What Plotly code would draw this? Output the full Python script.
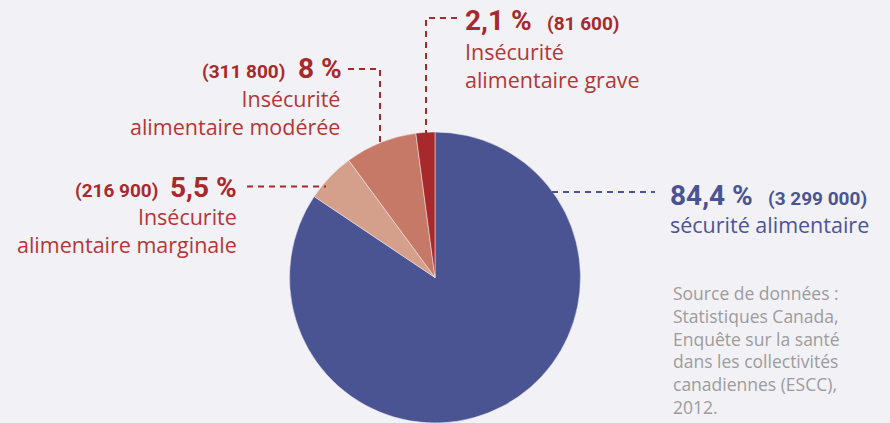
import plotly.graph_objects as go

# ---- data ----
categories = ["sécurité alimentaire", "Insécurite alimentaire marginale",
              "Insécurité alimentaire modérée", "Insécurité alimentaire grave"]
percent_labels = ["84,4 %", "5,5 %", "8 %", "2,1 %"]
percent_values = [84.4, 5.5, 8.0, 2.1]
count_labels = ["(3 299 000)", "(216 900)", "(311 800)", "(81 600)"]
label_lines = [["sécurité alimentaire"],
               ["Insécurite", "alimentaire marginale"],
               ["Insécurité", "alimentaire modérée"],
               ["Insécurité", "alimentaire grave"]]
source_lines = ["Source de données :", "Statistiques Canada,",
                "Enquête sur la santé", "dans les collectivités",
                "canadiennes (ESCC),", "2012."]

# ---- style ----
W, H = 890, 423
BG = "#f2f1f6"
slice_colors = ["#4a5493", "#d4a08c", "#c67966", "#a8292b"]
text_colors = ["#4a5493", "#b23636", "#b23636", "#b23636"]
big_colors = ["#4a5493", "#a8292b", "#a8292b", "#a8292b"]
line_colors = ["#4a5493", "#a8292b", "#a8292b", "#a8292b"]
BOLD = "Roboto, Liberation Sans, sans-serif"
REG = "Open Sans, Lato, sans-serif"


def px(x):
    return x / W


def py(y):
    return 1 - y / H


fig = go.Figure()
fig.add_trace(go.Pie(
    labels=categories, values=percent_values, sort=False,
    direction="clockwise", rotation=0,
    marker=dict(colors=slice_colors, line=dict(color=BG, width=0.5)),
    textinfo="none", hoverinfo="label+percent", showlegend=False,
    domain=dict(x=[px(289.5), px(580.5)], y=[0, 291 / H]),
))

big_size, small_size, lab_size = 28, 19, 21.5

ann = []


def big(text, x, base, anchor, color):
    ann.append(dict(text=f"<b>{text}</b>", x=px(x), y=py(base - 0.342 * big_size),
                    xref="paper", yref="paper", xanchor=anchor, yanchor="middle",
                    showarrow=False, font=dict(family=BOLD, size=big_size, color=color)))


def small(text, x, base, anchor, color):
    ann.append(dict(text=f"<b>{text}</b>", x=px(x), y=py(base - 0.342 * small_size),
                    xref="paper", yref="paper", xanchor=anchor, yanchor="middle",
                    showarrow=False, font=dict(family=BOLD, size=small_size, color=color)))


def label(lines, x, base1, anchor, color, size=lab_size, align="left"):
    n = len(lines)
    lh = 1.3 * size
    center = base1 - 0.388 * size + (n - 1) * lh / 2
    ann.append(dict(text="<br>".join(lines), x=px(x), y=py(center), xref="paper", yref="paper",
                    xanchor=anchor, yanchor="middle", align=align, showarrow=False,
                    font=dict(family=REG, size=size, color=color)))


# sécurité alimentaire
big(percent_labels[0], 668, 205, "left", big_colors[0])
small(count_labels[0], 766, 205, "left", big_colors[0])
label(label_lines[0], 668, 233, "left", text_colors[0])
# marginale
big(percent_labels[1], 239, 197, "right", big_colors[1])
small(count_labels[1], 160, 197, "right", big_colors[1])
label(label_lines[1], 239, 225, "right", text_colors[1], align="right")
# modérée
big(percent_labels[2], 344, 78, "right", big_colors[2])
small(count_labels[2], 287, 78, "right", big_colors[2])
label(label_lines[2], 342, 107, "right", text_colors[2], align="right")
# grave
big(percent_labels[3], 463, 30, "left", big_colors[3])
small(count_labels[3], 545, 30, "left", big_colors[3])
label(label_lines[3], 463, 59.5, "left", text_colors[3])
# source
label(source_lines, 671, 300, "left", "#9c9c9c", size=17.5)

dash = dict(width=2, dash="6px,5px")
shapes = [
    dict(type="line", x0=px(552), x1=px(655), y0=py(192), y1=py(192), line=dict(color=line_colors[0], **dash)),
    dict(type="line", x0=px(247), x1=px(326), y0=py(186.5), y1=py(186.5), line=dict(color=line_colors[1], **dash)),
    dict(type="path", path=f"M {px(348)},{py(69)} L {px(380)},{py(69)} L {px(380)},{py(144)}",
         line=dict(color=line_colors[2], **dash)),
    dict(type="path", path=f"M {px(457)},{py(18)} L {px(426)},{py(18)} L {px(426)},{py(133)}",
         line=dict(color=line_colors[3], **dash)),
]
for s in shapes:
    s["xref"] = "paper"
    s["yref"] = "paper"

fig.update_layout(width=W, height=H, margin=dict(l=0, r=0, t=0, b=0),
                  paper_bgcolor=BG, plot_bgcolor=BG,
                  annotations=ann, shapes=shapes)

fig.write_html("out.html", config={"displayModeBar": False},
               post_script="document.body.style.margin='0';document.body.style.overflow='hidden';"
                           "document.documentElement.style.background='" + BG + "';")
